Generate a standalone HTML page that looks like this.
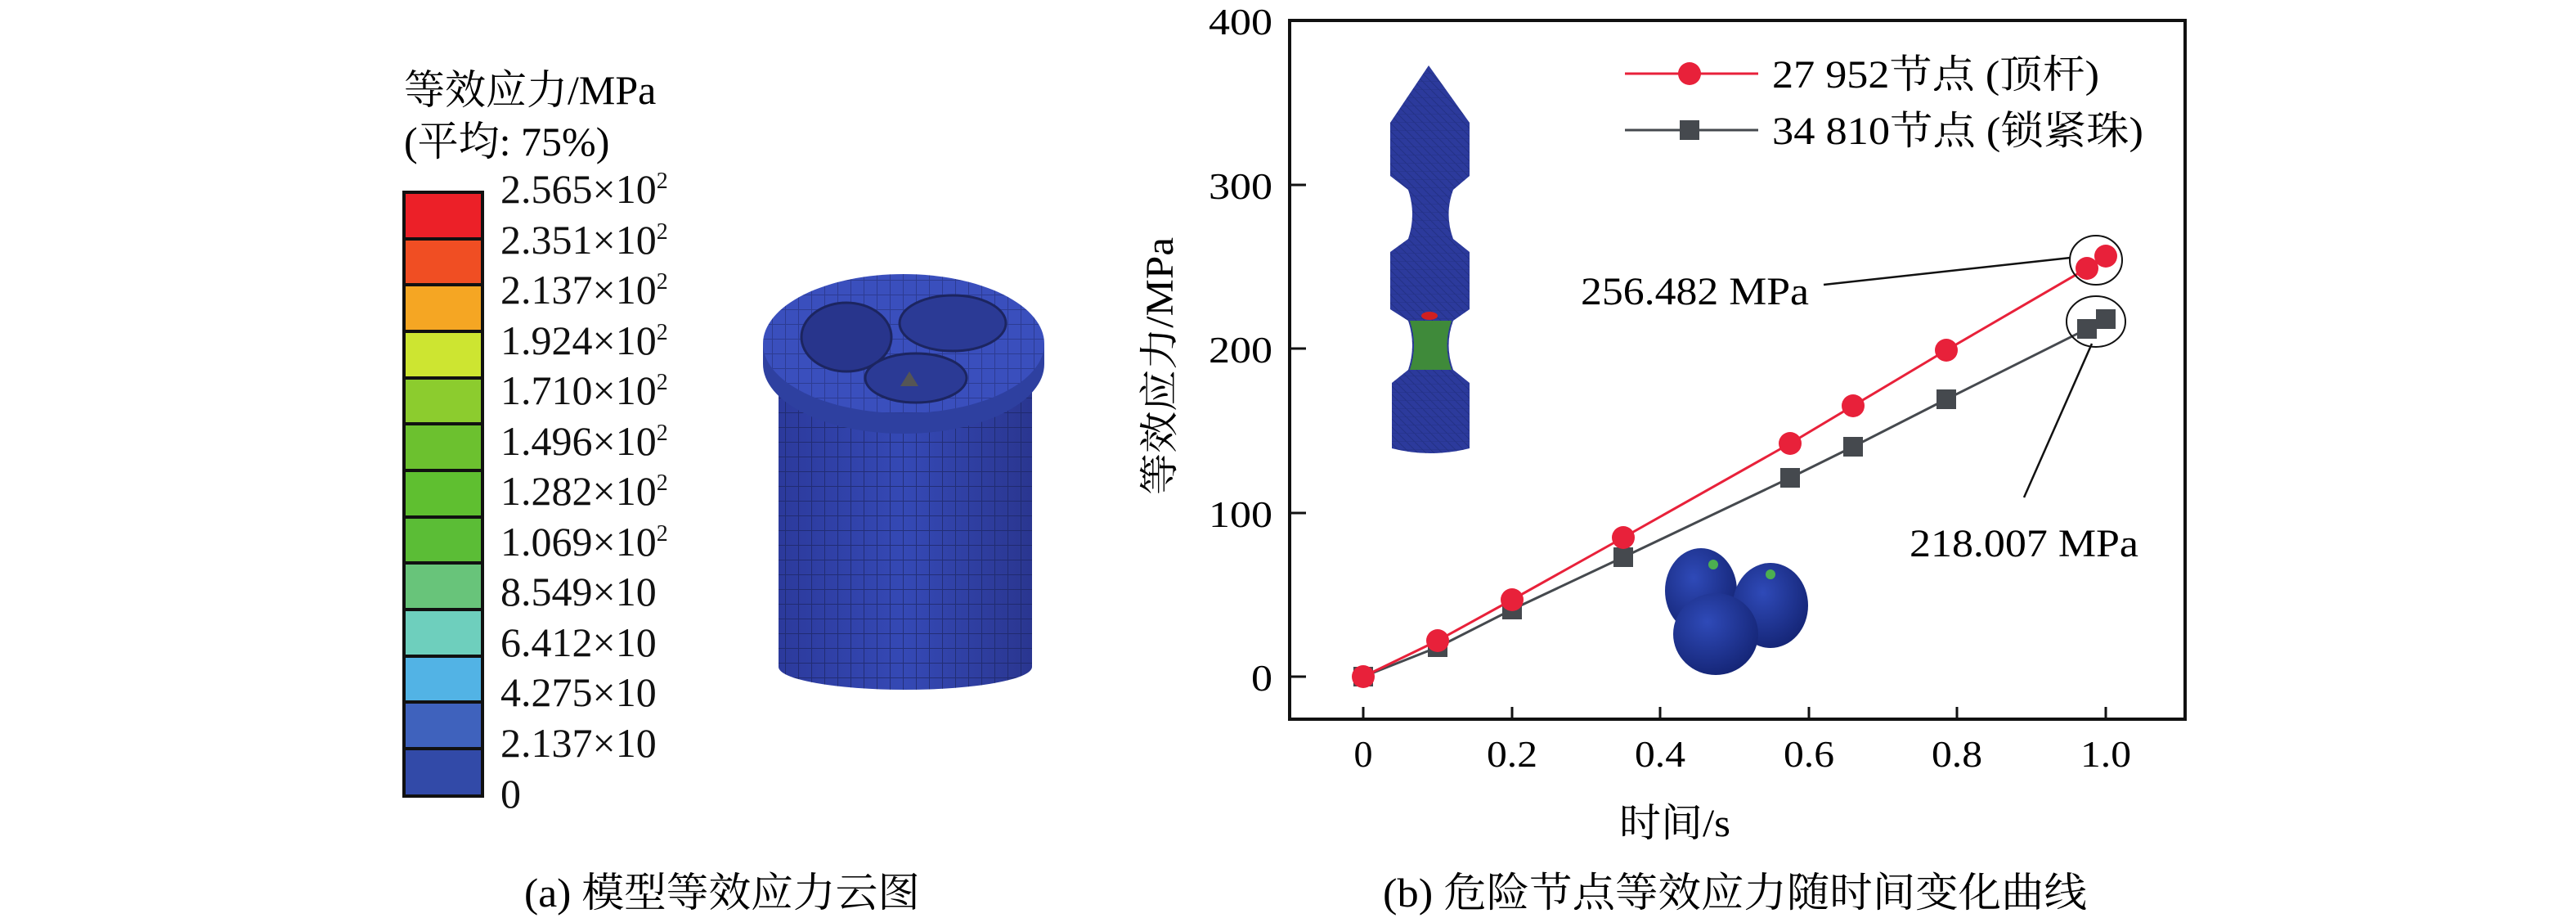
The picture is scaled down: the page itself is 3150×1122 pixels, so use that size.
<!DOCTYPE html>
<html><head><meta charset="utf-8"><style>html,body{margin:0;padding:0;background:#fff}svg{display:block}</style></head><body>
<svg xmlns="http://www.w3.org/2000/svg" width="3150" height="1122" viewBox="0 0 3150 1122" font-family="'Liberation Serif','Noto Serif CJK SC',serif">
<defs>
<pattern id="grid" width="16" height="18" patternUnits="userSpaceOnUse"><rect width="16" height="18" fill="none"/><path d="M0 0H16M0 0V18" stroke="#1c2560" stroke-width="2"/></pattern>
<pattern id="tri" width="10" height="10" patternUnits="userSpaceOnUse"><path d="M0 0L10 10M0 10H10" stroke="#1a2870" stroke-width="1"/></pattern>
<linearGradient id="cyl" x1="0" x2="1"><stop offset="0" stop-color="#2c3a9c"/><stop offset="0.5" stop-color="#3549b5"/><stop offset="1" stop-color="#2a3690"/></linearGradient>
<radialGradient id="sph" cx="0.4" cy="0.35" r="0.7"><stop offset="0" stop-color="#2f4ab8"/><stop offset="1" stop-color="#142474"/></radialGradient>
</defs>
<!-- LEFT PANEL -->
<text x="494" y="127" font-size="50">等效应力/MPa</text>
<text x="494" y="190" font-size="50">(平均: 75%)</text>
<g stroke="#111" stroke-width="4">
<rect x="494" y="235" width="96" height="57" fill="#ec2028"/>
<rect x="494" y="292" width="96" height="56" fill="#f04e23"/>
<rect x="494" y="348" width="96" height="57" fill="#f5a623"/>
<rect x="494" y="405" width="96" height="57" fill="#cde531"/>
<rect x="494" y="462" width="96" height="56" fill="#8ccc2e"/>
<rect x="494" y="518" width="96" height="57" fill="#6cc12f"/>
<rect x="494" y="575" width="96" height="57" fill="#5fbf30"/>
<rect x="494" y="632" width="96" height="56" fill="#5bbd36"/>
<rect x="494" y="688" width="96" height="57" fill="#68c47a"/>
<rect x="494" y="745" width="96" height="57" fill="#6ecfbd"/>
<rect x="494" y="802" width="96" height="56" fill="#52b3e5"/>
<rect x="494" y="858" width="96" height="57" fill="#3f62bd"/>
<rect x="494" y="915" width="96" height="58" fill="#324aa8"/>
</g>
<g font-size="50" fill="#111">
<text x="612" y="248">2.565×10<tspan dy="-18" font-size="28">2</tspan></text>
<text x="612" y="310">2.351×10<tspan dy="-18" font-size="28">2</tspan></text>
<text x="612" y="371">2.137×10<tspan dy="-18" font-size="28">2</tspan></text>
<text x="612" y="433">1.924×10<tspan dy="-18" font-size="28">2</tspan></text>
<text x="612" y="494">1.710×10<tspan dy="-18" font-size="28">2</tspan></text>
<text x="612" y="556">1.496×10<tspan dy="-18" font-size="28">2</tspan></text>
<text x="612" y="617">1.282×10<tspan dy="-18" font-size="28">2</tspan></text>
<text x="612" y="679">1.069×10<tspan dy="-18" font-size="28">2</tspan></text>
<text x="612" y="740">8.549×10</text>
<text x="612" y="802">6.412×10</text>
<text x="612" y="863">4.275×10</text>
<text x="612" y="925">2.137×10</text>
<text x="612" y="987">0</text>
</g>
<!-- cylinder -->
<path d="M952 440 V815 A155 28 0 0 0 1262 815 V440 Z" fill="url(#cyl)"/>
<path d="M952 440 V815 A155 28 0 0 0 1262 815 V440 Z" fill="url(#grid)" opacity="0.7"/>
<path d="M933 420 V445 A172 85 0 0 0 1277 445 V420 Z" fill="#2e40a0"/>
<ellipse cx="1105" cy="420" rx="172" ry="85" fill="#3a4fbd"/>
<ellipse cx="1105" cy="420" rx="172" ry="85" fill="url(#grid)" opacity="0.45"/>
<ellipse cx="1035" cy="412" rx="55" ry="42" fill="#28358c" stroke="#1c2560" stroke-width="3"/>
<ellipse cx="1165" cy="395" rx="65" ry="34" fill="#2b3a95" stroke="#1c2560" stroke-width="3"/>
<ellipse cx="1120" cy="462" rx="62" ry="30" fill="#2b3a95" stroke="#1c2560" stroke-width="3"/>
<path d="M1101 472 L1112 454 L1123 472 Z" fill="#555"/>
<!-- PLOT -->
<rect x="1577" y="25" width="1095" height="854" fill="none" stroke="#111" stroke-width="4"/>
<g stroke="#111" stroke-width="3">
<line x1="1577" y1="25" x2="1597" y2="25"/><line x1="1577" y1="226" x2="1597" y2="226"/><line x1="1577" y1="426" x2="1597" y2="426"/><line x1="1577" y1="627" x2="1597" y2="627"/><line x1="1577" y1="827" x2="1597" y2="827"/>
<line x1="1667" y1="879" x2="1667" y2="864"/><line x1="1849" y1="879" x2="1849" y2="864"/><line x1="2030" y1="879" x2="2030" y2="864"/><line x1="2212" y1="879" x2="2212" y2="864"/><line x1="2393" y1="879" x2="2393" y2="864"/><line x1="2575" y1="879" x2="2575" y2="864"/>
</g>
<g font-size="46" text-anchor="end">
<text x="1556" y="42" textLength="78" lengthAdjust="spacingAndGlyphs">400</text>
<text x="1556" y="243" textLength="78" lengthAdjust="spacingAndGlyphs">300</text>
<text x="1556" y="443" textLength="78" lengthAdjust="spacingAndGlyphs">200</text>
<text x="1556" y="644" textLength="78" lengthAdjust="spacingAndGlyphs">100</text>
<text x="1556" y="844" textLength="26" lengthAdjust="spacingAndGlyphs">0</text>
</g>
<g font-size="46" text-anchor="middle">
<text x="1667" y="937">0</text>
<text x="1849" y="937" textLength="62" lengthAdjust="spacingAndGlyphs">0.2</text>
<text x="2030" y="937" textLength="62" lengthAdjust="spacingAndGlyphs">0.4</text>
<text x="2212" y="937" textLength="62" lengthAdjust="spacingAndGlyphs">0.6</text>
<text x="2393" y="937" textLength="62" lengthAdjust="spacingAndGlyphs">0.8</text>
<text x="2575" y="937" textLength="62" lengthAdjust="spacingAndGlyphs">1.0</text>
</g>
<text x="1980" y="1022" font-size="48" textLength="136" lengthAdjust="spacingAndGlyphs">时间/s</text>
<text transform="translate(1434,605) rotate(-90)" font-size="48" textLength="315" lengthAdjust="spacingAndGlyphs">等效应力/MPa</text>
<!-- insets -->
<g>
<path d="M1747 80 L1700 150 V215 L1722 232 Q1732 262 1722 292 L1700 308 V378 L1722 392 Q1732 422 1722 452 L1702 468 V548 Q1749 560 1797 548 V468 L1777 452 Q1766 422 1777 392 L1797 378 V308 L1777 292 Q1766 262 1777 232 L1797 215 V150 Z" fill="#2c3a9c"/>
<path d="M1747 80 L1700 150 V215 L1722 232 Q1732 262 1722 292 L1700 308 V378 L1722 392 Q1732 422 1722 452 L1702 468 V548 Q1749 560 1797 548 V468 L1777 452 Q1766 422 1777 392 L1797 378 V308 L1777 292 Q1766 262 1777 232 L1797 215 V150 Z" fill="url(#tri)" opacity="0.5"/>
<path d="M1724 392 Q1734 422 1724 452 H1775 Q1764 422 1775 392 Z" fill="#3f8a3a"/>
<ellipse cx="1748" cy="386" rx="10" ry="5" fill="#d02020"/>
</g>
<g>
<ellipse cx="2080" cy="722" rx="44" ry="52" fill="url(#sph)"/>
<ellipse cx="2165" cy="740" rx="46" ry="52" fill="url(#sph)"/>
<ellipse cx="2098" cy="775" rx="52" ry="50" fill="url(#sph)"/>
<circle cx="2095" cy="690" r="6" fill="#4caf50"/>
<circle cx="2165" cy="702" r="6" fill="#4caf50"/>
</g>
<!-- series -->
<polyline fill="none" stroke="#45494e" stroke-width="3" points="1667,827 1758,791 1849,745 1985,681 2189,584 2266,546 2380,488 2552,402 2575,390"/>
<polyline fill="none" stroke="#e8213a" stroke-width="3" points="1667,827 1758,783 1849,733 1985,657 2189,542 2266,496 2380,428 2552,328 2575,313"/>
<g fill="#45494e">
<rect x="1655" y="815" width="24" height="24"/><rect x="1746" y="779" width="24" height="24"/><rect x="1837" y="733" width="24" height="24"/><rect x="1973" y="669" width="24" height="24"/><rect x="2177" y="572" width="24" height="24"/><rect x="2254" y="534" width="24" height="24"/><rect x="2368" y="476" width="24" height="24"/><rect x="2540" y="390" width="24" height="24"/><rect x="2563" y="378" width="24" height="24"/>
</g>
<g fill="#e8213a">
<circle cx="1667" cy="827" r="14"/><circle cx="1758" cy="783" r="14"/><circle cx="1849" cy="733" r="14"/><circle cx="1985" cy="657" r="14"/><circle cx="2189" cy="542" r="14"/><circle cx="2266" cy="496" r="14"/><circle cx="2380" cy="428" r="14"/><circle cx="2552" cy="328" r="14"/><circle cx="2575" cy="313" r="14"/>
</g>
<!-- annotations -->
<ellipse cx="2563" cy="318" rx="32" ry="30" fill="none" stroke="#111" stroke-width="2"/>
<ellipse cx="2563" cy="393" rx="36" ry="31" fill="none" stroke="#111" stroke-width="2"/>
<line x1="2230" y1="348" x2="2532" y2="315" stroke="#111" stroke-width="2.5"/>
<line x1="2475" y1="608" x2="2558" y2="420" stroke="#111" stroke-width="2.5"/>
<text x="1933" y="372" font-size="48" textLength="279" lengthAdjust="spacingAndGlyphs">256.482 MPa</text>
<text x="2335" y="680" font-size="48" textLength="280" lengthAdjust="spacingAndGlyphs">218.007 MPa</text>
<!-- legend -->
<line x1="1987" y1="90" x2="2150" y2="90" stroke="#e8213a" stroke-width="3"/>
<circle cx="2066" cy="90" r="14" fill="#e8213a"/>
<line x1="1987" y1="159" x2="2150" y2="159" stroke="#45494e" stroke-width="3"/>
<rect x="2054" y="147" width="24" height="24" fill="#45494e"/>
<text x="2167" y="107" font-size="48" textLength="400" lengthAdjust="spacingAndGlyphs">27 952节点 (顶杆)</text>
<text x="2167" y="176" font-size="48" textLength="454" lengthAdjust="spacingAndGlyphs">34 810节点 (锁紧珠)</text>
<!-- captions -->
<text x="641" y="1108" font-size="50" textLength="484" lengthAdjust="spacingAndGlyphs">(a) 模型等效应力云图</text>
<text x="1691" y="1108" font-size="50" textLength="861" lengthAdjust="spacingAndGlyphs">(b) 危险节点等效应力随时间变化曲线</text>
</svg>
</body></html>
